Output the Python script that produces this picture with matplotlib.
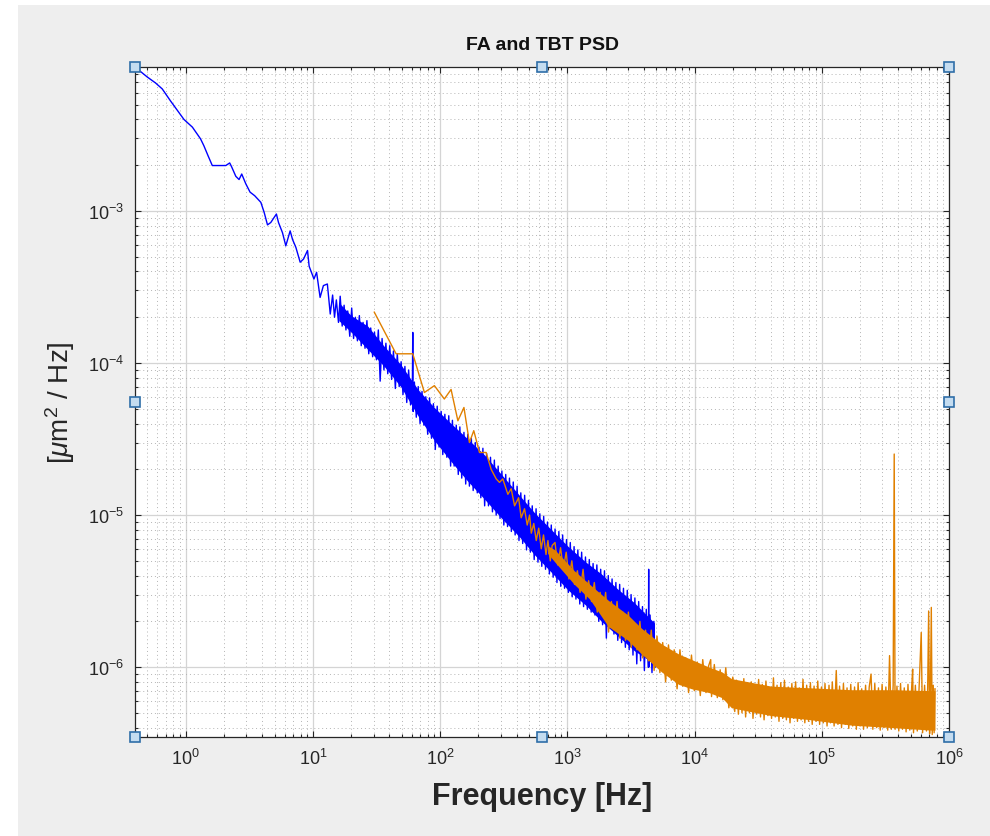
import numpy as np
import matplotlib
matplotlib.use("Agg")
import matplotlib.pyplot as plt
from matplotlib.patches import Rectangle
from matplotlib.ticker import LogLocator, NullFormatter

plt.rcParams['font.family'] = ['Liberation Sans', 'DejaVu Sans']
plt.rcParams['mathtext.fontset'] = 'custom'
plt.rcParams['mathtext.rm'] = 'Liberation Sans'
plt.rcParams['mathtext.it'] = 'Liberation Sans:italic'

# FA PSD (blue): smooth low-frequency part, then the noisy part read as a zigzag
fa_f = [0.41, 0.50, 0.58, 0.655, 0.76, 0.97, 1.13, 1.31, 1.39, 1.50, 1.62, 1.94, 2.07,
        2.22, 2.30, 2.48, 2.63, 2.76, 2.97, 3.21, 3.49, 3.90, 4.14, 4.40, 4.67, 5.17,
        5.37, 5.77, 6.13, 6.63, 6.92, 7.35, 7.95, 8.45, 9.08, 9.35, 10.2, 10.7, 11.4,
        12.1, 13.0, 13.7,
        14.3, 14.8, 15.3, 15.9, 16.4, 17.0, 17.6, 18.2, 18.8, 19.5, 20.2, 20.9, 21.6,
        22.4, 23.2, 24.0, 24.8, 25.7, 26.6, 27.5, 28.5, 29.5, 30.5, 31.6, 32.7, 33.8,
        35.0, 36.2, 37.5, 38.8, 40.2, 41.6, 43.0, 44.5, 46.1, 47.7, 49.4, 51.1, 52.9,
        54.7, 56.6, 58.6, 60.6, 61.0, 61.4, 62.8, 65.0, 67.3, 69.6, 72.1, 74.6, 77.2,
        79.9, 82.7, 85.6, 88.6, 91.7, 94.9, 98.2, 102, 105, 109, 113, 117, 121, 125,
        129, 134, 139, 143, 148, 154, 159, 165, 170, 176, 182, 189, 196, 202, 209, 217,
        224, 232, 240, 249, 258, 267, 276, 286, 296, 306, 317, 328, 339, 351, 363, 376,
        389, 403, 417, 431, 446, 462, 478, 495, 512, 530, 549, 568, 588, 608, 630, 652,
        674, 698, 723, 748, 774, 801, 829, 858, 888, 919, 951, 985, 1019, 1055, 1092,
        1130, 1169, 1210, 1253, 1296, 1342, 1389, 1437, 1488, 1540, 1594, 1649, 1707,
        1767, 1829, 1893, 1959, 2027, 2098, 2172, 2248, 2326, 2408, 2492, 2579, 2670,
        2763, 2860, 2960, 3063, 3171, 3282, 3397, 3515, 3638, 3766, 3897, 4034, 4175,
        4321, 4350, 4360, 4370, 4472, 4629, 4791, 4900]
fa_p = [8.7e-3, 7.6e-3, 6.95e-3, 6.35e-3, 5.3e-3, 4.0e-3, 3.56e-3, 2.98e-3, 2.69e-3,
        2.31e-3, 1.99e-3, 1.99e-3, 1.99e-3, 2.07e-3, 1.95e-3, 1.69e-3, 1.61e-3, 1.75e-3,
        1.51e-3, 1.33e-3, 1.26e-3, 1.14e-3, 9.8e-4, 8.1e-4, 8.4e-4, 9.55e-4, 8.4e-4,
        7.2e-4, 5.9e-4, 7.4e-4, 6.5e-4, 5.77e-4, 4.6e-4, 4.83e-4, 5.5e-4, 4.33e-4,
        3.57e-4, 3.95e-4, 2.7e-4, 3.23e-4, 3.31e-4, 2.1e-4,
        2.8e-4, 2.0e-4, 2.6e-4, 1.85e-4, 2.75e-4, 1.75e-4, 2.4e-4, 1.65e-4, 2.2e-4,
        1.5e-4, 2.3e-4, 1.45e-4, 2.0e-4, 1.4e-4, 2.05e-4, 1.3e-4, 1.85e-4, 1.25e-4,
        1.9e-4, 1.15e-4, 1.7e-4, 1.1e-4, 1.6e-4, 1.05e-4, 1.65e-4, 7.6e-5, 1.45e-4,
        9.0e-5, 1.35e-4, 8.5e-5, 1.3e-4, 7.8e-5, 1.2e-4, 6.8e-5, 1.15e-4, 7.0e-5,
        1.02e-4, 6.2e-5, 9.5e-5, 5.5e-5, 9.0e-5, 5.3e-5, 7.8e-5, 1.59e-4, 4.8e-5,
        7.5e-5, 4.4e-5, 7.0e-5, 4.0e-5, 6.5e-5, 3.9e-5, 6.0e-5, 3.4e-5, 5.9e-5, 3.2e-5,
        5.4e-5, 2.7e-5, 5.2e-5, 2.8e-5, 4.8e-5, 2.5e-5, 4.6e-5, 2.4e-5, 4.5e-5, 2.1e-5,
        4.2e-5, 2.1e-5, 3.9e-5, 1.85e-5, 3.8e-5, 1.75e-5, 3.5e-5, 1.6e-5, 3.4e-5,
        1.55e-5, 3.2e-5, 1.45e-5, 3.0e-5, 1.4e-5, 2.8e-5, 1.3e-5, 2.75e-5, 1.15e-5,
        2.55e-5, 1.15e-5, 2.4e-5, 1.05e-5, 2.3e-5, 1.0e-5, 2.1e-5, 9.5e-6, 1.95e-5,
        8.6e-6, 1.85e-5, 8.4e-6, 1.75e-5, 7.8e-6, 1.65e-5, 7.4e-6, 1.55e-5, 6.8e-6,
        1.4e-5, 6.5e-6, 1.35e-5, 5.9e-6, 1.25e-5, 5.7e-6, 1.15e-5, 5.1e-6, 1.1e-5,
        4.9e-6, 1.02e-5, 4.6e-6, 9.8e-6, 4.4e-6, 9.0e-6, 4.1e-6, 8.6e-6, 3.9e-6, 8.1e-6,
        3.6e-6, 7.8e-6, 3.4e-6, 7.4e-6, 3.3e-6, 6.9e-6, 3.1e-6, 6.6e-6, 2.9e-6, 6.2e-6,
        2.8e-6, 5.9e-6, 2.6e-6, 5.7e-6, 2.5e-6, 5.3e-6, 2.4e-6, 5.1e-6, 2.3e-6, 4.8e-6,
        2.2e-6, 4.7e-6, 2.0e-6, 4.4e-6, 1.9e-6, 4.3e-6, 1.55e-6, 4.0e-6, 1.8e-6, 3.8e-6,
        1.65e-6, 3.6e-6, 1.5e-6, 3.5e-6, 1.45e-6, 3.3e-6, 1.35e-6, 3.2e-6, 1.3e-6,
        3.0e-6, 1.2e-6, 2.85e-6, 1.05e-6, 2.7e-6, 1.1e-6, 2.5e-6, 9.5e-7, 2.4e-6,
        1.0e-6, 2.1e-6, 4.4e-6, 1.0e-6, 2.2e-6, 9.2e-7, 2.0e-6, 1.0e-6]

# core of the FA noise band (freq, lower, upper)
fa_band_f = [16, 20, 27, 36, 49, 67, 90, 122, 166, 222, 302, 420, 550, 750, 1018,
             1400, 1853, 2500, 3370, 4840]
fa_band_lo = [1.9e-4, 1.6e-4, 1.23e-4, 9.6e-5, 7.0e-5, 4.5e-5, 3.1e-5, 2.25e-5, 1.66e-5,
              1.28e-5, 9.6e-6, 7.2e-6, 5.5e-6, 4.2e-6, 3.2e-6, 2.55e-6, 2.0e-6, 1.6e-6,
              1.28e-6, 1.05e-6]
fa_band_hi = [2.5e-4, 2.05e-4, 1.75e-4, 1.3e-4, 9.8e-5, 6.7e-5, 5.1e-5, 4.0e-5, 3.15e-5,
              2.5e-5, 1.86e-5, 1.35e-5, 1.04e-5, 8.0e-6, 6.2e-6, 4.9e-6, 4.1e-6, 3.25e-6,
              2.65e-6, 1.95e-6]

# TBT PSD (orange)
tbt_f = [30.4, 45.1, 61.0, 75.3, 90.2, 108, 122, 138, 154, 170, 184, 204, 230, 252,
         276, 293, 311, 341, 362, 385, 414, 434, 461, 484, 505, 521, 545, 570, 596, 624,
         650, 680, 704, 735, 760,
         800, 840, 885, 930, 980, 1030, 1085, 1140, 1200, 1260, 1330, 1400, 1470, 1550,
         1630, 1720, 1810, 1900, 2000, 2110, 2220, 2340, 2460, 2590, 2730, 2870, 3020,
         3180, 3350, 3530, 3720, 3910, 4120, 4340, 4570, 4810, 5070, 5340, 5620, 5920,
         6240, 6570, 6920, 7290, 7680, 8090, 8520, 8980, 9460, 9960, 10500, 11100, 11600,
         12300, 12900, 13400, 13600, 14300, 15100, 15900, 16700, 17600, 18600,
         20000, 20700, 21400, 22100, 22800, 23600, 24400, 25200, 26100, 27000, 27900,
         28800, 29800, 30800, 31900, 33000, 34100, 35200, 36400, 37700, 39000, 40300,
         41700, 43100, 44500, 46100, 47600, 49300, 50900, 52700, 54500, 56300, 58200,
         60200, 62300, 64400, 66600, 68800, 71200, 73600, 76100, 78700, 81400, 84100,
         87000, 89900, 93000, 96200, 99400, 103000, 106000, 110000, 114000, 117000,
         121000, 125000, 130000, 134000, 138000, 143000, 148000, 153000, 158000, 163000,
         169000, 175000, 181000, 187000, 193000, 200000, 206000, 213000, 221000, 228000,
         236000, 244000, 252000, 261000, 270000, 279000, 288000, 298000, 308000, 319000,
         330000, 341000, 352000, 364000, 371000, 377000, 390000, 403000, 416000, 431000,
         445000, 460000, 476000, 492000, 509000, 518000, 526000, 544000, 563000, 582000,
         605000, 620000, 643000, 665000, 680000, 692000, 704000, 715000, 726000, 738000,
         752000, 764000, 776000]
tbt_p = [2.16e-4, 1.15e-4, 1.15e-4, 6.4e-5, 7.1e-5, 5.8e-5, 6.7e-5, 4.17e-5, 5.1e-5,
         3.0e-5, 3.59e-5, 2.58e-5, 2.58e-5, 2.0e-5, 1.73e-5, 1.64e-5, 1.73e-5, 1.37e-5,
         1.49e-5, 1.15e-5, 1.3e-5, 9.6e-6, 1.1e-5, 8.6e-6, 1.0e-5, 7.6e-6, 8.8e-6, 6.8e-6,
         8.2e-6, 6.0e-6, 7.4e-6, 5.5e-6, 6.8e-6, 5.0e-6, 6.3e-6,
         6.6e-6, 4.7e-6, 6.1e-6, 4.4e-6, 5.7e-6, 3.8e-6, 5.0e-6, 3.5e-6, 4.3e-6, 3.1e-6,
         4.4e-6, 2.8e-6, 3.7e-6, 2.7e-6, 3.6e-6, 2.3e-6, 3.1e-6, 2.2e-6, 3.1e-6, 1.7e-6,
         2.7e-6, 1.8e-6, 2.7e-6, 1.55e-6, 2.3e-6, 1.5e-6, 2.3e-6, 1.35e-6, 1.95e-6, 1.3e-6,
         2.0e-6, 1.15e-6, 1.75e-6, 1.1e-6, 1.75e-6, 9.5e-7, 1.6e-6, 9.2e-7, 1.45e-6,
         8.0e-7, 1.4e-6, 8.2e-7, 1.3e-6, 7.2e-7, 1.3e-6, 7.5e-7, 1.15e-6, 6.8e-7, 1.2e-6,
         7.0e-7, 1.08e-6, 6.5e-7, 1.12e-6, 6.8e-7, 1.02e-6, 1.12e-6, 6.4e-7, 1.04e-6,
         6.3e-7, 9.6e-7, 6.1e-7, 9.9e-7, 5.4e-7,
         8.6e-7, 5.1e-7, 8.2e-7, 4.9e-7, 7.6e-7, 5.0e-7, 8.4e-7, 4.7e-7, 7.9e-7, 5.0e-7,
         8.0e-7, 4.6e-7, 7.4e-7, 4.9e-7, 8.3e-7, 4.7e-7, 7.7e-7, 4.5e-7, 8.1e-7, 4.8e-7,
         7.3e-7, 4.6e-7, 8.5e-7, 4.7e-7, 7.6e-7, 4.4e-7, 7.9e-7, 4.6e-7, 8.2e-7, 4.5e-7,
         7.4e-7, 4.3e-7, 7.8e-7, 4.6e-7, 8.0e-7, 4.4e-7, 7.3e-7, 4.5e-7, 8.3e-7, 4.3e-7,
         7.6e-7, 4.4e-7, 7.9e-7, 4.2e-7, 7.5e-7, 4.4e-7, 8.1e-7, 4.2e-7, 7.4e-7, 4.3e-7,
         7.8e-7, 4.1e-7, 7.6e-7, 4.3e-7, 8.0e-7, 4.1e-7, 9.5e-7, 4.2e-7, 7.5e-7, 4.0e-7,
         7.8e-7, 4.2e-7, 7.3e-7, 3.95e-7, 7.7e-7, 4.1e-7, 7.4e-7, 3.9e-7, 7.9e-7, 4.1e-7,
         7.2e-7, 3.9e-7, 7.6e-7, 4.0e-7, 7.4e-7, 9.0e-7, 3.9e-7, 7.8e-7, 4.0e-7, 7.3e-7,
         3.85e-7, 7.7e-7, 4.0e-7, 7.4e-7, 3.85e-7, 1.19e-6, 3.9e-7, 7.6e-7, 2.52e-5,
         3.9e-7, 7.5e-7, 3.8e-7, 7.8e-7, 3.9e-7, 7.3e-7, 3.75e-7, 7.7e-7, 3.85e-7, 7.4e-7,
         9.7e-7, 3.7e-7, 7.6e-7, 3.8e-7, 7.3e-7, 1.69e-6, 3.7e-7, 7.6e-7, 3.8e-7, 7.4e-7,
         2.34e-6, 3.65e-7, 7.5e-7, 2.47e-6, 3.6e-7, 7.6e-7, 3.7e-7, 7.2e-7]

# core of the TBT noise band
tbt_band_f = [700, 800, 1135, 1500, 2100, 3000, 3830, 5500, 7500, 9500, 13000, 16400,
              19500, 40000, 83000, 172000, 360000, 730000, 776000]
tbt_band_lo = [5.6e-6, 4.9e-6, 3.5e-6, 2.8e-6, 1.85e-6, 1.5e-6, 1.22e-6, 9.3e-7, 7.7e-7,
               7.2e-7, 6.8e-7, 6.3e-7, 5.4e-7, 4.8e-7, 4.5e-7, 4.15e-7, 4.0e-7, 3.85e-7,
               3.85e-7]
tbt_band_hi = [6.3e-6, 5.9e-6, 4.3e-6, 3.5e-6, 2.75e-6, 2.2e-6, 1.8e-6, 1.42e-6, 1.22e-6,
               1.12e-6, 1.0e-6, 9.3e-7, 8.4e-7, 7.5e-7, 7.3e-7, 7.1e-7, 7.1e-7, 7.0e-7,
               7.0e-7]

x_ticks = [1e0, 1e1, 1e2, 1e3, 1e4, 1e5, 1e6]
y_ticks = [1e-6, 1e-5, 1e-4, 1e-3]

blue = '#0000ff'
orange = '#e08000'

fig = plt.figure(figsize=(9.9, 8.37), dpi=100)
fig.patch.set_facecolor('white')
fig.patches.append(Rectangle((18 / 990, 0), 1, 1 - 6 / 837, transform=fig.transFigure,
                             facecolor='#eeeeee', edgecolor='none', zorder=-10))

ax = fig.add_axes([135 / 990, 1 - 738 / 837, 814 / 990, 670 / 837])
ax.set_xscale('log')
ax.set_yscale('log')

ax.fill_between(fa_band_f, fa_band_lo, fa_band_hi, color=blue, lw=0, zorder=2)
ax.plot(fa_f, fa_p, color=blue, lw=1.0, zorder=3)
ax.fill_between(tbt_band_f, tbt_band_lo, tbt_band_hi, color=orange, lw=0, zorder=4)
ax.plot(tbt_f, tbt_p, color=orange, lw=1.0, zorder=5)

ax.set_xlim(0.4, 1e6)
ax.set_ylim(3.47e-7, 8.85e-3)

ax.set_xticks(x_ticks)
ax.set_yticks(y_ticks)
ax.xaxis.set_minor_locator(LogLocator(base=10, subs=np.arange(2, 10), numticks=20))
ax.yaxis.set_minor_locator(LogLocator(base=10, subs=np.arange(2, 10), numticks=20))
ax.xaxis.set_minor_formatter(NullFormatter())
ax.yaxis.set_minor_formatter(NullFormatter())

ax.grid(True, which='major', color='#d4d4d4', lw=0.9, ls='-', zorder=0)
ax.grid(True, which='minor', color='#b4b4b4', lw=0.7, ls=(0, (1, 3)), zorder=0)
ax.set_axisbelow(True)

ax.tick_params(which='both', direction='in', top=True, right=True, colors='#262626',
               labelsize=13, width=0.8)
ax.tick_params(which='major', length=4.5, pad=8)
ax.tick_params(which='minor', length=2.5)
for s in ax.spines.values():
    s.set_color('#262626')
    s.set_linewidth(0.9)

ax.set_title('FA and TBT PSD', fontsize=14, fontweight='bold', color='#111111', pad=13)
ax.set_xlabel('Frequency [Hz]', fontsize=22, fontweight='bold', color='#262626',
              labelpad=9)
ax.set_ylabel(r'[$\mu$m$^2$ / Hz]', fontsize=20, color='#262626', labelpad=8)

# selection handles on the axes box
hx = [0, 0.5, 1, 0, 1, 0, 0.5, 1]
hy = [1, 1, 1, 0.5, 0.5, 0, 0, 0]
ax.plot(hx, hy, ls='none', marker='s', ms=7, mfc='#c4dcf0', mec='#2f6ea8', mew=1.2,
        transform=ax.transAxes, clip_on=False, zorder=10)

fig.savefig('out.png', dpi=100)
